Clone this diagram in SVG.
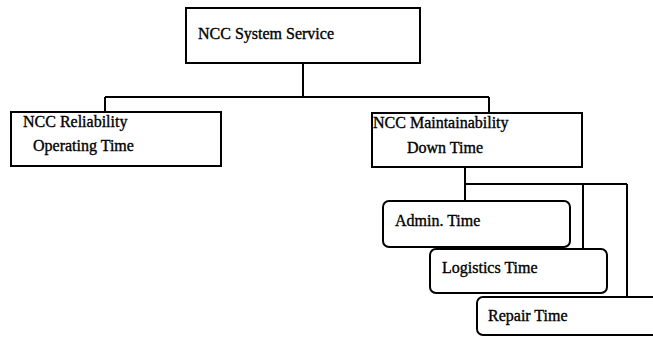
<svg xmlns="http://www.w3.org/2000/svg" width="653" height="337" viewBox="0 0 653 337">
  <style>
    .box { fill: #ffffff; stroke: #000000; stroke-width: 2; }
    .wire { fill: none; stroke: #000000; stroke-width: 2; }
    .lbl { font-family: "Liberation Serif", "Times New Roman", serif; font-size: 16px; fill: #000000; stroke: #000000; stroke-width: 0.35; }
  </style>
  <rect width="653" height="337" fill="#ffffff"/>

  <g id="connectors">
    <path class="wire" d="M303 63 V97 M105 97 H489 M105 97 V112 M489 97 V113"/>
    <path class="wire" d="M465 167 V201 M465 184 H627 M583 184 V249 M627 184 V297"/>
  </g>

  <g id="system-service">
    <rect class="box" x="186" y="8" width="234" height="55"/>
    <text class="lbl" x="198" y="39">NCC System Service</text>
  </g>

  <g id="reliability">
    <rect class="box" x="11" y="112" width="210" height="54"/>
    <text class="lbl" x="23" y="127">NCC Reliability</text>
    <text class="lbl" x="33" y="151">Operating Time</text>
  </g>

  <g id="maintainability">
    <rect class="box" x="372" y="113" width="210" height="54"/>
    <text class="lbl" x="373" y="128">NCC Maintainability</text>
    <text class="lbl" x="407" y="153">Down Time</text>
  </g>

  <g id="admin-time">
    <rect class="box" x="383" y="201" width="187" height="46" rx="6"/>
    <text class="lbl" x="395" y="226">Admin. Time</text>
  </g>

  <g id="logistics-time">
    <rect class="box" x="430" y="249" width="177" height="44" rx="6"/>
    <text class="lbl" x="442" y="273">Logistics Time</text>
  </g>

  <g id="repair-time">
    <rect class="box" x="477" y="297" width="200" height="38" rx="6"/>
    <text class="lbl" x="488" y="321">Repair Time</text>
  </g>
</svg>
